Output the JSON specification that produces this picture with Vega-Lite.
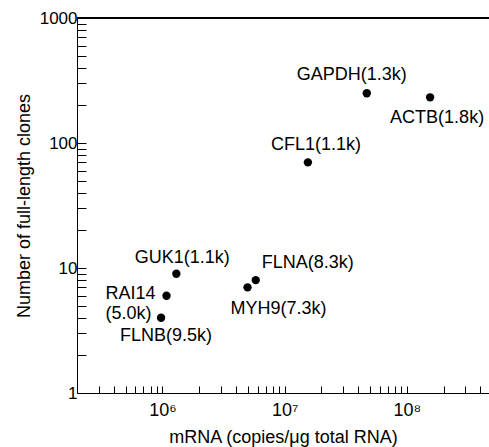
{
  "$schema": "https://vega.github.io/schema/vega-lite/v6.json",
  "width": 412,
  "height": 375,
  "autosize": {"type": "none"},
  "padding": {"left": 77, "top": 18, "right": 0, "bottom": 54},
  "background": "white",
  "config": {
    "view": {"stroke": null},
    "font": "Liberation Sans",
    "axis": {
      "grid": false,
      "domainColor": "black",
      "domainWidth": 1,
      "tickColor": "black",
      "tickWidth": 1,
      "labelColor": "black",
      "titleColor": "black",
      "labelFont": "Liberation Sans",
      "titleFont": "Liberation Sans",
      "titleFontWeight": "normal",
      "labelFontSize": 17,
      "titleFontSize": 18
    }
  },
  "data": {
    "values": [
      {"gene": "GAPDH", "label": "GAPDH(1.3k)", "mrna": 47000000, "clones": 250},
      {"gene": "ACTB", "label": "ACTB(1.8k)", "mrna": 155000000, "clones": 232},
      {"gene": "CFL1", "label": "CFL1(1.1k)", "mrna": 15500000, "clones": 70},
      {"gene": "GUK1", "label": "GUK1(1.1k)", "mrna": 1300000, "clones": 9},
      {"gene": "RAI14", "label": "RAI14\n(5.0k)", "mrna": 1080000, "clones": 6},
      {"gene": "FLNB", "label": "FLNB(9.5k)", "mrna": 975000, "clones": 4},
      {"gene": "FLNA", "label": "FLNA(8.3k)", "mrna": 5800000, "clones": 8},
      {"gene": "MYH9", "label": "MYH9(7.3k)", "mrna": 4970000, "clones": 7}
    ]
  },
  "encoding": {
    "x": {
      "field": "mrna",
      "type": "quantitative",
      "scale": {"type": "log", "domain": [200000, 470000000], "nice": false},
      "axis": {
        "title": "mRNA (copies/\u03bcg total RNA)",
        "values": [200000, 300000, 400000, 500000, 600000, 700000, 800000, 900000, 1000000, 2000000, 3000000, 4000000, 5000000, 6000000, 7000000, 8000000, 9000000, 10000000, 20000000, 30000000, 40000000, 50000000, 60000000, 70000000, 80000000, 90000000, 100000000, 200000000, 300000000, 400000000],
        "labelExpr": "datum.value == 1000000 ? '10\u2076' : datum.value == 10000000 ? '10\u2077' : datum.value == 100000000 ? '10\u2078' : ''",
        "labelFontSize": 18,
        "tickSize": -7,
        "labelPadding": 15,
        "titlePadding": 9
      }
    },
    "y": {
      "field": "clones",
      "type": "quantitative",
      "scale": {"type": "log", "domain": [1, 1000], "nice": false},
      "axis": {
        "title": "Number of full-length clones",
        "values": [1, 2, 3, 4, 5, 6, 7, 8, 9, 10, 20, 30, 40, 50, 60, 70, 80, 90, 100, 200, 300, 400, 500, 600, 700, 800, 900, 1000],
        "labelExpr": "datum.value == 1 || datum.value == 10 || datum.value == 100 || datum.value == 1000 ? format(datum.value, 'd') : ''",
        "tickSize": -9,
        "labelPadding": 9,
        "titlePadding": 6
      }
    }
  },
  "layer": [
    {"mark": {"type": "rule", "color": "black", "strokeWidth": 1}, "encoding": {"x": null, "y": {"datum": 1000}}},
    {"mark": {"type": "circle", "color": "black", "opacity": 1, "size": 70}},
    {"transform": [{"filter": "datum.gene == 'GAPDH'"}], "mark": {"type": "text", "fontSize": 18, "align": "center", "baseline": "middle", "dx": -15, "dy": -18}, "encoding": {"text": {"field": "label"}}},
    {"transform": [{"filter": "datum.gene == 'ACTB'"}], "mark": {"type": "text", "fontSize": 18, "align": "center", "baseline": "middle", "dx": 7, "dy": 21}, "encoding": {"text": {"field": "label"}}},
    {"transform": [{"filter": "datum.gene == 'CFL1'"}], "mark": {"type": "text", "fontSize": 18, "align": "center", "baseline": "middle", "dx": 8, "dy": -17}, "encoding": {"text": {"field": "label"}}},
    {"transform": [{"filter": "datum.gene == 'GUK1'"}], "mark": {"type": "text", "fontSize": 18, "align": "center", "baseline": "middle", "dx": 6, "dy": -16}, "encoding": {"text": {"field": "label"}}},
    {"transform": [{"filter": "datum.gene == 'RAI14'"}], "mark": {"type": "text", "fontSize": 18, "align": "left", "baseline": "middle", "dx": -61, "dy": -2, "lineBreak": "\n", "lineHeight": 20}, "encoding": {"text": {"field": "label"}}},
    {"transform": [{"filter": "datum.gene == 'FLNB'"}], "mark": {"type": "text", "fontSize": 18, "align": "center", "baseline": "middle", "dx": 5, "dy": 18}, "encoding": {"text": {"field": "label"}}},
    {"transform": [{"filter": "datum.gene == 'FLNA'"}], "mark": {"type": "text", "fontSize": 18, "align": "left", "baseline": "middle", "dx": 6, "dy": -17}, "encoding": {"text": {"field": "label"}}},
    {"transform": [{"filter": "datum.gene == 'MYH9'"}], "mark": {"type": "text", "fontSize": 18, "align": "left", "baseline": "middle", "dx": -17, "dy": 22}, "encoding": {"text": {"field": "label"}}}
  ]
}
